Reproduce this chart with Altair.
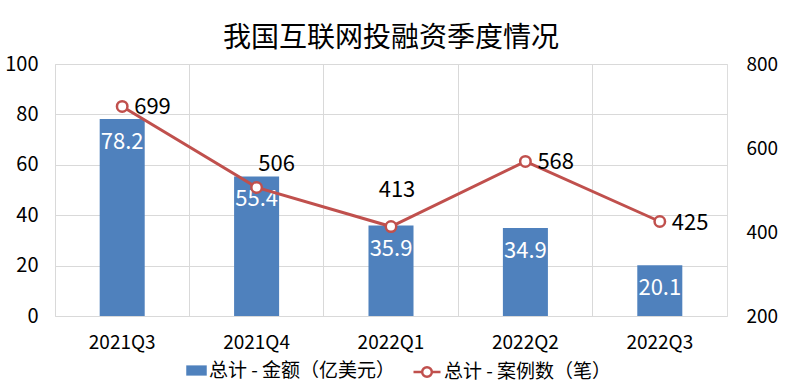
import altair as alt
import pandas as pd

quarters = ["2021Q3", "2021Q4", "2022Q1", "2022Q2", "2022Q3"]
amount = [78.2, 55.4, 35.9, 34.9, 20.1]
count = [699, 506, 413, 568, 425]
bar_name = "总计 - 金额（亿美元）"
line_name = "总计 - 案例数（笔）"

df = pd.DataFrame({"quarter": quarters, "amount": amount, "count": count})

FONT = "Noto Sans CJK SC"
BLUE = "#4F81BD"
RED = "#C0504D"

base = alt.Chart(df)

x_enc = alt.X(
    "quarter:N",
    sort=quarters,
    title=None,
    scale=alt.Scale(paddingInner=0, paddingOuter=0),
    axis=alt.Axis(
        domain=False, ticks=False, grid=True, bandPosition=0,
        gridColor="#d9d9d9", labelAngle=0, labelFontSize=19,
        labelPadding=17, labelColor="#000000", labelFont=FONT,
    ),
)

y_left = alt.Y(
    "amount:Q",
    title=None,
    scale=alt.Scale(domain=[0, 100], nice=False, zero=True),
    axis=alt.Axis(
        values=[0, 20, 40, 60, 80, 100], domain=False, ticks=False,
        grid=True, gridColor="#d9d9d9", labelFontSize=20, labelPadding=17,
        labelColor="#000000", labelFont=FONT,
    ),
)

y_right = alt.Y(
    "count:Q",
    title=None,
    scale=alt.Scale(domain=[200, 800], nice=False, zero=False),
    axis=alt.Axis(
        orient="right", values=[200, 400, 600, 800], domain=False,
        ticks=False, grid=False, labelFontSize=19, labelPadding=19,
        labelColor="#000000", labelFont=FONT,
    ),
)

bars = base.transform_calculate(series=f"'{bar_name}'").mark_bar(
    width={"band": 0.335}, color=BLUE
).encode(
    x=x_enc,
    y=y_left,
    color=alt.Color(
        "series:N",
        scale=alt.Scale(domain=[bar_name], range=[BLUE]),
        legend=alt.Legend(
            orient="none", legendX=131, legendY=296, title=None,
            symbolType="M-1,-0.5H1V0.5H-1Z", symbolSize=420,
            symbolStrokeWidth=0, labelFontSize=19, labelFont=FONT,
            labelColor="#000000", labelOffset=2, labelLimit=0,
        ),
    ),
)

bar_text = base.mark_text(
    color="white", fontSize=22, font=FONT, baseline="middle", dy=23
).encode(x=x_enc, y=y_left, text=alt.Text("amount:Q", format=".1f"))

left = alt.layer(bars, bar_text)

line = base.transform_calculate(series2=f"'{line_name}'").mark_line(
    strokeWidth=3
).encode(
    x=x_enc,
    y=y_right,
    stroke=alt.Stroke(
        "series2:N",
        scale=alt.Scale(domain=[line_name], range=[RED]),
        legend=alt.Legend(
            orient="none", legendX=357, legendY=293, title=None,
            symbolType="M-1,0H-0.36M0.36,0H1M-0.36,0A0.36,0.36 0 1,0 0.36,0A0.36,0.36 0 1,0 -0.36,0Z",
            symbolSize=729, symbolStrokeWidth=2.5, symbolFillColor="white",
            labelFontSize=19, labelFont=FONT, labelColor="#000000",
            labelOffset=2, labelLimit=0,
        ),
    ),
)

pts = base.mark_point(
    shape="circle", filled=True, fill="white", stroke=RED,
    strokeWidth=2.5, size=110, opacity=1,
).encode(x=x_enc, y=y_right)

txt_right = base.transform_filter(
    alt.FieldOneOfPredicate(field="quarter", oneOf=["2021Q3", "2022Q2", "2022Q3"])
).mark_text(
    align="left", baseline="middle", dx=12, dy=1, fontSize=22, font=FONT,
    color="#000000",
).encode(x=x_enc, y=y_right, text="count:Q")

txt_506 = base.transform_filter(alt.datum.quarter == "2021Q4").mark_text(
    align="center", baseline="middle", dx=20, dy=-23, fontSize=22, font=FONT,
    color="#000000",
).encode(x=x_enc, y=y_right, text="count:Q")

txt_413 = base.transform_filter(alt.datum.quarter == "2022Q1").mark_text(
    align="center", baseline="middle", dx=6, dy=-37, fontSize=22, font=FONT,
    color="#000000",
).encode(x=x_enc, y=y_right, text="count:Q")

right = alt.layer(line, pts, txt_right, txt_506, txt_413)

chart = alt.layer(left, right).resolve_scale(
    y="independent", color="independent", stroke="independent"
).properties(
    width=672,
    height=252,
    padding={"left": 55, "top": 64, "right": 73, "bottom": 68},
    autosize=alt.AutoSizeParams(type="none"),
    title=alt.TitleParams(
        "我国互联网投融资季度情况", fontSize=28, font=FONT, fontWeight="normal",
        color="#000000", anchor="middle", offset=1,
    ),
).configure_view(
    fill="#f4f4f4", stroke="#d9d9d9", strokeWidth=1
).configure(background="white")

chart.save("out.html", embed_options={"renderer": "svg", "actions": False})
